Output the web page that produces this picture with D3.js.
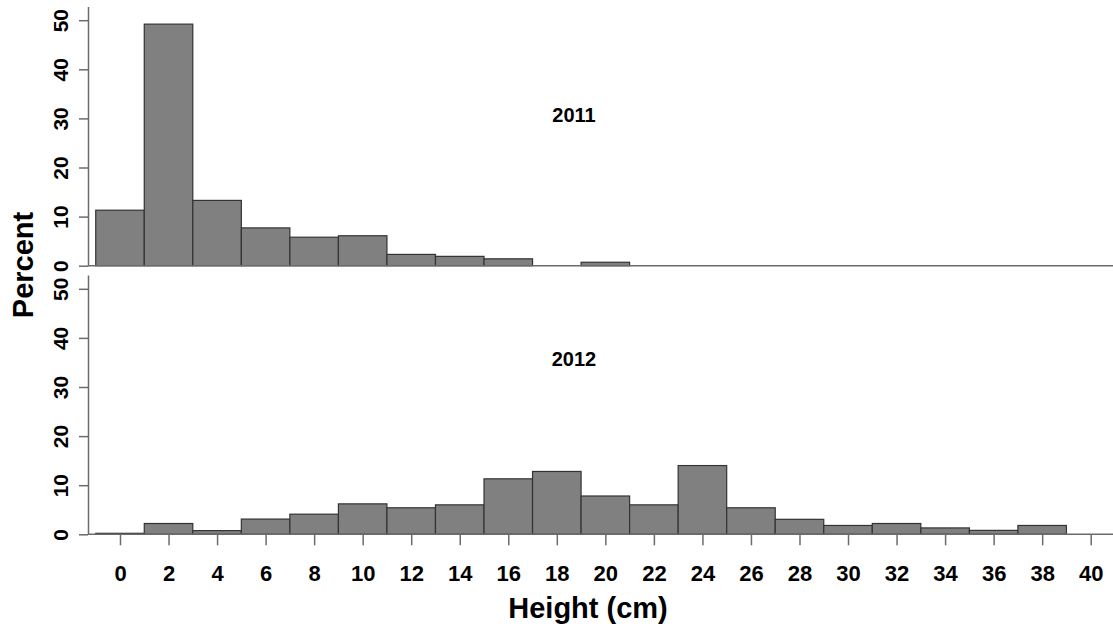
<!DOCTYPE html>
<html>
<head>
<meta charset="utf-8">
<script src="https://cdn.jsdelivr.net/npm/d3@7"></script>
<style>
  body { margin: 0; background: #fff; }
  text { font-family: "Liberation Sans", Arial, sans-serif; font-weight: bold; fill: #000; }
</style>
</head>
<body>
<div id="chart"></div>
<script>
// histogram bins are 2 cm wide, starting at odd values
const binStarts = [-1, 1, 3, 5, 7, 9, 11, 13, 15, 17, 19, 21, 23, 25, 27, 29, 31, 33, 35, 37];
const pct2011 = [11.3, 49.2, 13.3, 7.7, 5.8, 6.1, 2.3, 1.9, 1.4, 0, 0.7, 0, 0, 0, 0, 0, 0, 0, 0, 0];
const pct2012 = [0.2, 2.2, 0.75, 3.1, 4.1, 6.2, 5.4, 6.0, 11.3, 12.8, 7.8, 6.0, 14.0, 5.4, 3.05, 1.8, 2.2, 1.3, 0.8, 1.8];
const yTicks = [0, 10, 20, 30, 40, 50];
const xTicks = d3.range(0, 41, 2);
const binWidth = 2;

const width = 1113, height = 630;
const axisX = 88;

const svg = d3.select("#chart").append("svg")
    .attr("width", width)
    .attr("height", height);

const x = d3.scaleLinear()
    .domain([0, 40])
    .range([120, 1090.7]);

const panels = [
    { label: "2011", values: pct2011, base: 265.7, labelY: 122 },
    { label: "2012", values: pct2012, base: 534.3, labelY: 365.7 }
];

panels.forEach((p, i) => {
    const y = d3.scaleLinear()
        .domain([0, 52.8])
        .range([p.base, p.base - 52.8 * 4.91]);

    const g = svg.append("g");

    const bins = binStarts.map((s, j) => ({ x0: s, x1: s + binWidth, v: p.values[j] }))
        .filter(d => d.v > 0);

    g.selectAll("rect")
        .data(bins)
        .enter()
        .append("rect")
        .attr("x", d => x(d.x0))
        .attr("y", d => y(d.v))
        .attr("width", d => x(d.x1) - x(d.x0))
        .attr("height", d => y(0) - y(d.v))
        .attr("fill", "#808080")
        .attr("stroke", "#333")
        .attr("stroke-width", 1.2);

    // baseline across the full width
    g.append("line")
        .attr("x1", axisX)
        .attr("x2", width)
        .attr("y1", y(0))
        .attr("y2", y(0))
        .attr("stroke", "#6b6b6b")
        .attr("stroke-width", 1.5);

    const yAxis = g.append("g")
        .attr("transform", `translate(${axisX},0)`)
        .call(d3.axisLeft(y).tickValues(yTicks).tickSize(9).tickSizeOuter(0));
    yAxis.select(".domain").attr("stroke", "#6b6b6b").attr("stroke-width", 1.5);
    yAxis.selectAll(".tick line").attr("stroke", "#6b6b6b").attr("stroke-width", 1.5);
    yAxis.selectAll(".tick text")
        .attr("x", 0)
        .attr("dy", 0)
        .attr("transform", "translate(-19.7,0) rotate(-90)")
        .style("text-anchor", "middle")
        .style("font-size", "21px")
        .style("font-weight", "bold")
        .style("font-family", "'Liberation Sans', Arial, sans-serif")
        .attr("fill", "#000");

    g.append("text")
        .attr("x", 574)
        .attr("y", p.labelY)
        .style("text-anchor", "middle")
        .style("font-size", "20px")
        .text(p.label);

    if (i === 1) {
        const xAxis = g.append("g")
            .attr("transform", `translate(0,${y(0)})`)
            .call(d3.axisBottom(x).tickValues(xTicks).tickSize(11).tickSizeOuter(0));
        xAxis.select(".domain").remove();
        xAxis.selectAll(".tick line").attr("stroke", "#6b6b6b").attr("stroke-width", 1.5);
        xAxis.selectAll(".tick text")
            .attr("y", 46.4)
            .attr("dy", 0)
            .style("font-size", "22px")
            .style("font-weight", "bold")
            .style("font-family", "'Liberation Sans', Arial, sans-serif")
            .attr("fill", "#000");
    }
});

svg.append("text")
    .attr("transform", "translate(33,265) rotate(-90)")
    .style("text-anchor", "middle")
    .style("font-size", "29px")
    .text("Percent");

svg.append("text")
    .attr("x", 588)
    .attr("y", 618)
    .style("text-anchor", "middle")
    .style("font-size", "29px")
    .text("Height (cm)");
</script>
</body>
</html>
